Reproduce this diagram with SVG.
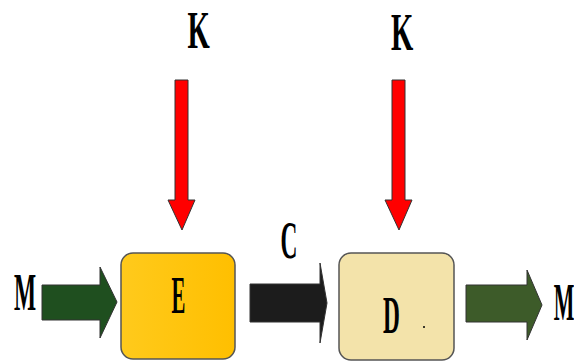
<svg xmlns="http://www.w3.org/2000/svg" width="574" height="361" viewBox="0 0 574 361">
  <style>
    .lbl { font-family: "Liberation Serif", "Times New Roman", serif; font-weight: bold; font-size: 52px; fill: #000; text-anchor: middle; }
    .box { stroke: #555; stroke-width: 1.5; }
    .arrow { stroke: #333; stroke-width: 1; stroke-linejoin: miter; }
  </style>
  <defs>
    <linearGradient id="gold" x1="0" y1="0" x2="1" y2="0">
      <stop offset="0" stop-color="#FFCA1C"/>
      <stop offset="1" stop-color="#FFBF00"/>
    </linearGradient>
  </defs>

  <!-- connectors -->
  <g id="connectors">
    <!-- K inputs -->
    <polygon class="arrow" fill="#FF0000" points="175,80 188,80 188,200 195,200 182,230 168,200 175,200"/>
    <polygon class="arrow" fill="#FF0000" points="392,80 405,80 405,200 412,200 399,230 385,200 392,200"/>
    <!-- M in -->
    <polygon class="arrow" fill="#1F4F1F" points="42,285 100,285 100,267 117,302 100,338 100,320 42,320"/>
    <!-- C between E and D -->
    <polygon class="arrow" fill="#1C1C1C" points="250,284 320,284 320,263 327,303 320,343 320,322 250,322"/>
    <!-- M out -->
    <polygon class="arrow" fill="#3D5B29" points="466,285 527,285 527,270 542,305 527,340 527,322 466,322"/>
  </g>

  <!-- node E -->
  <g id="node-E">
    <rect class="box" x="121" y="253" width="114" height="106" rx="12" fill="url(#gold)"/>
    <text class="lbl" transform="translate(178.5,313) scale(0.4,1)">E</text>
  </g>

  <!-- node D -->
  <g id="node-D">
    <rect class="box" x="339" y="253" width="115" height="107" rx="12" fill="#F3E3AA"/>
    <text class="lbl" transform="translate(391.5,333) scale(0.45,1)">D</text>
    <circle cx="424" cy="327" r="1" fill="#000"/>
  </g>

  <!-- labels -->
  <g id="labels">
    <text class="lbl" transform="translate(198.5,48) scale(0.55,1)">K</text>
    <text class="lbl" transform="translate(402,50) scale(0.55,1)">K</text>
    <text class="lbl" transform="translate(289,258) scale(0.45,1)">C</text>
    <text class="lbl" transform="translate(25,310) scale(0.45,1)">M</text>
    <text class="lbl" transform="translate(564,320) scale(0.42,1)">M</text>
  </g>
</svg>
